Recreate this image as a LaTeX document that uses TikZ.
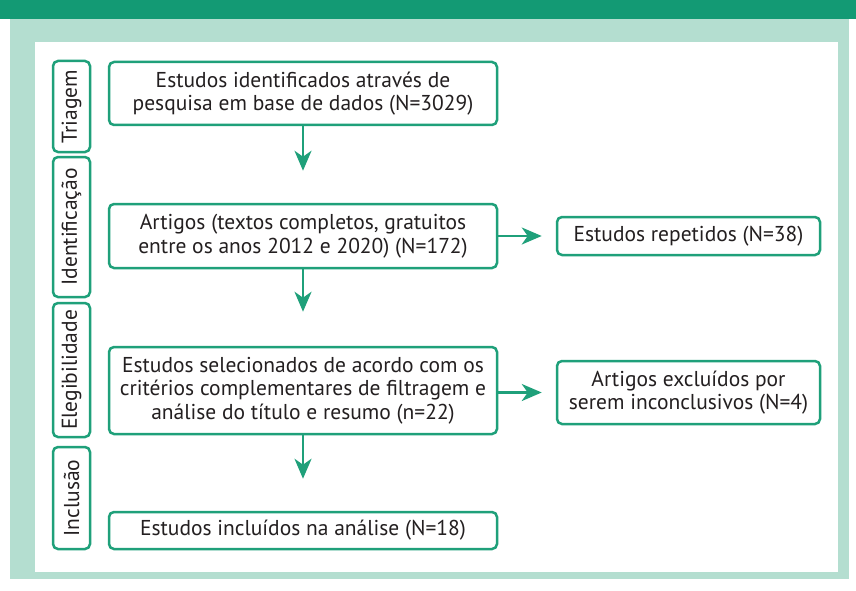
\documentclass[tikz,border=0pt]{standalone}
\usepackage{fontspec}
\setmainfont{PT Sans}
\usetikzlibrary{arrows.meta}
\definecolor{barra}{RGB}{19,154,116}
\definecolor{fundo}{RGB}{180,222,208}
\definecolor{borda}{RGB}{31,160,122}
\definecolor{texto}{RGB}{35,31,32}
\tikzset{
  caixa/.style={draw=borda, line width=2.5pt, rounded corners=5pt, align=center,
    text=texto, font=\fontsize{21.5}{23.7}\selectfont, inner sep=0pt},
  fase/.style={caixa, rotate=90, minimum height=37pt},
  seta/.style={draw=borda, line width=2.5pt, -{Stealth[length=20pt,width=17pt,inset=6pt]}}
}
\begin{document}
\begin{tikzpicture}[x=1pt,y=-1pt]
			%%%%% START %%%%%
			\useasboundingbox (0,0) rectangle (856,591);
			\fill[white] (0,0) rectangle (856,591);
			\fill[fundo] (10,18) rectangle (849,579);
			\fill[barra] (0,0) rectangle (856,19);
			\fill[white] (35,42) rectangle (838,572);
			
			% fases
			\node[fase, minimum width=91pt] (triagem) at (71.5,106.5) {Triagem};
			\node[fase, minimum width=140pt] (ident) at (71.5,227) {Identificação};
			\node[fase, minimum width=134pt] (eleg) at (71.5,370) {Elegibilidade};
			\node[fase, minimum width=102pt] (incl) at (71.5,498) {Inclusão};
			
			% caixas centrais
			\node[caixa, minimum width=388pt, minimum height=63pt] (estudos) at (303,93.5)
				{Estudos identificados através de\\pesquisa em base de dados (N=3029)};
			\node[caixa, minimum width=388pt, minimum height=64pt] (artigos) at (303,236)
				{Artigos (textos completos, gratuitos\\entre os anos 2012 e 2020) (N=172)};
			\node[caixa, minimum width=388pt, minimum height=87pt] (selec) at (303,390.5)
				{Estudos selecionados de acordo com os\\critérios complementares de filtragem e\\análise do título e resumo (n=22)};
			\node[caixa, minimum width=388pt, minimum height=37pt] (incluidos) at (303,530.5)
				{Estudos incluídos na análise (N=18)};
			
			% caixas laterais
			\node[caixa, minimum width=263pt, minimum height=38pt] (repetidos) at (688.5,236)
				{Estudos repetidos (N=38)};
			\node[caixa, minimum width=263pt, minimum height=63pt] (excluidos) at (688.5,392.5)
				{Artigos excluídos por\\serem inconclusivos (N=4)};
			
			% setas
			\draw[seta, shorten >=32pt] (estudos) -- (artigos);
			\draw[seta, shorten >=34pt] (artigos) -- (selec);
			\draw[seta, shorten >=32pt] (selec) -- (incluidos);
			\draw[seta, shorten >=14pt] (artigos.east) -- (repetidos.west);
			\draw[seta, shorten >=14pt] (selec.east |- excluidos.west) -- (excluidos.west);
			%%%%% END %%%%%
\end{tikzpicture}
\end{document}
